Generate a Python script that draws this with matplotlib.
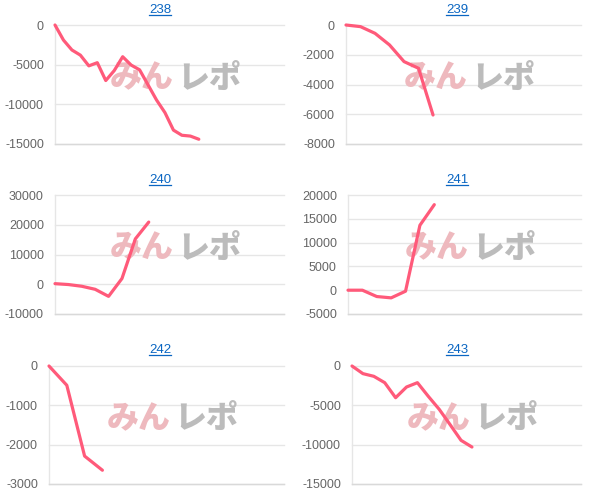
import matplotlib
matplotlib.use("Agg")
import matplotlib.pyplot as plt
from matplotlib.lines import Line2D

# ---- data ----
titles = ["238", "239", "240", "241", "242", "243"]
s238 = [0, -1900, -3150, -3800, -5150, -4750, -7000, -5750, -4000, -5050, -5650,
        -7550, -9450, -11050, -13250, -13900, -14000, -14400]
s239 = [0, -110, -560, -1340, -2460, -2910, -6050]
s240 = [200, -100, -680, -1700, -4070, 1920, 15250, 20900]
s241 = [0, 0, -1330, -1610, -210, 13640, 17970]
s242 = [0, -490, -2290, -2650]
s243 = [0, -970, -1310, -2120, -4030, -2670, -2120, -3860, -5510, -7460, -9450, -10300]
series = [s238, s239, s240, s241, s242, s243]
yticks = [
    [0, -5000, -10000, -15000],
    [0, -2000, -4000, -6000, -8000],
    [30000, 20000, 10000, 0, -10000],
    [20000, 15000, 10000, 5000, 0, -5000],
    [0, -1000, -2000, -3000],
    [0, -5000, -10000, -15000],
]
xmax = [27.07, 16.2, 17.1, 16.2, 13.2, 21.0]

# ---- layout (pixels) ----
W, H = 606, 500
boxes = [  # left, right, top, bottom
    (55, 284, 25, 144),
    (346, 581, 25, 144),
    (55, 284, 195, 314),
    (348, 581, 195, 314),
    (49, 284, 366, 484),
    (352, 581, 366, 484),
]
title_pos = [(160, 10), (457, 10), (160, 180), (457, 180), (160, 350), (457, 350)]

LINE = "#ff5a7a"
GRID = "#e6e6e6"
TICK = "#666666"
LINK = "#0a66c2"

fig = plt.figure(figsize=(W / 100, H / 100), dpi=100)
fig.patch.set_facecolor("white")

titles_txt = []
for i, (l, r, t, b) in enumerate(boxes):
    ax = fig.add_axes([l / W, 1 - b / H, (r - l) / W, (b - t) / H])
    ax.set_facecolor("none")
    ys = series[i]
    ax.plot(range(len(ys)), ys, color=LINE, lw=2.3, clip_on=False, zorder=5,
            solid_joinstyle="round", solid_capstyle="round")
    ax.set_xlim(0, xmax[i])
    yt = yticks[i]
    ax.set_ylim(min(yt), max(yt))
    ax.set_yticks(yt)
    ax.set_yticklabels([str(v) for v in yt], fontfamily="Liberation Sans",
                       fontsize=9, color=TICK)
    ax.set_xticks([])
    ax.tick_params(axis="y", length=0, pad=8)
    for v in yt:
        ax.axhline(v, color=GRID, lw=1, zorder=0, clip_on=False)
    for s in ["top", "right"]:
        ax.spines[s].set_visible(False)
    ax.spines["left"].set_color(GRID)
    ax.spines["left"].set_linewidth(1)
    ax.spines["bottom"].set_color("#d9d9d9")
    ax.spines["bottom"].set_linewidth(1)
    # watermark
    ax.text(0.52, 0.555, "みん", transform=ax.transAxes, ha="right", va="center",
            fontfamily="Noto Sans CJK JP", fontweight="heavy", fontsize=23,
            color="#eeb9be", zorder=1)
    ax.text(0.535, 0.555, "レポ", transform=ax.transAxes, ha="left", va="center",
            fontfamily="Noto Sans CJK JP", fontweight="heavy", fontsize=23,
            color="#bcbcbc", zorder=1)
    tx, ty = title_pos[i]
    txt = fig.text(tx / W, 1 - ty / H, titles[i], ha="center", va="center",
                   fontfamily="Liberation Sans", fontsize=9.5, color=LINK)
    titles_txt.append(txt)

fig.canvas.draw()
renderer = fig.canvas.get_renderer()
for txt in titles_txt:
    bb = txt.get_window_extent(renderer)
    y = bb.y0 + 1
    fig.add_artist(Line2D([bb.x0 / W, bb.x1 / W], [y / H, y / H],
                          transform=fig.transFigure, color=LINK, lw=0.9))

fig.savefig("out.png", dpi=100, facecolor="white")
